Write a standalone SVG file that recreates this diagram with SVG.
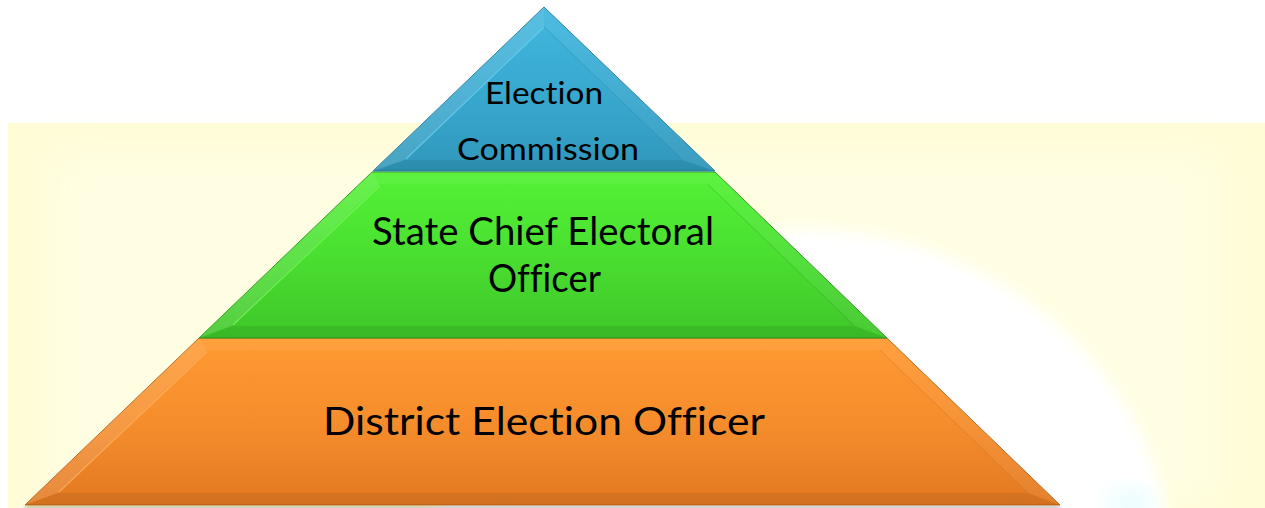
<svg xmlns="http://www.w3.org/2000/svg" width="1265" height="508" viewBox="0 0 1265 508">
  <defs>
    <linearGradient id="gBlue" x1="0" y1="0" x2="0" y2="1">
      <stop offset="0" stop-color="#42B8DF"/>
      <stop offset="0.6" stop-color="#37A6CD"/>
      <stop offset="1" stop-color="#3097BA"/>
    </linearGradient>
    <linearGradient id="gGreen" x1="0" y1="0" x2="0" y2="1">
      <stop offset="0" stop-color="#53F235"/>
      <stop offset="0.5" stop-color="#4ADF31"/>
      <stop offset="1" stop-color="#3FC629"/>
    </linearGradient>
    <linearGradient id="gOrange" x1="0" y1="0" x2="0" y2="1">
      <stop offset="0" stop-color="#FF9A32"/>
      <stop offset="0.5" stop-color="#F68D2C"/>
      <stop offset="1" stop-color="#E27922"/>
    </linearGradient>
    <filter id="blurBig" x="-30%" y="-30%" width="160%" height="160%">
      <feGaussianBlur stdDeviation="7"/>
    </filter>
    <filter id="blurSoft" x="-50%" y="-50%" width="200%" height="200%">
      <feGaussianBlur stdDeviation="12"/>
    </filter>
    <filter id="blurEdge" x="-10%" y="-10%" width="120%" height="120%">
      <feGaussianBlur stdDeviation="22"/>
    </filter>
    <filter id="shadow" x="-5%" y="-5%" width="110%" height="120%">
      <feGaussianBlur stdDeviation="1.5"/>
    </filter>
  </defs>
  <style>
    .lbl { font-family: Lato, "Open Sans", "Liberation Sans", sans-serif; fill: #000000; text-anchor: middle; font-variant-ligatures: none; font-feature-settings: "liga" 0; }
    .hl { fill: #FFFFFF; fill-opacity: 0.12; }
    .hr { fill: #FFFFFF; fill-opacity: 0.06; }
    .ht { fill: #FFFFFF; fill-opacity: 0.06; }
    .sb { fill: #000000; fill-opacity: 0.07; }
  </style>

  <rect x="0" y="0" width="1265" height="508" fill="#FFFFFF"/>

  <!-- background panel -->
  <g id="background">
    <rect x="8" y="123" width="1257" height="385" fill="#FFFCD6"/>
    <rect x="50" y="150" width="1170" height="358" fill="#FFFEE3" filter="url(#blurEdge)"/>
    <ellipse cx="800" cy="565" rx="370" ry="336" fill="#FFFFFF" filter="url(#blurBig)"/>
    <ellipse cx="1130" cy="502" rx="22" ry="12" fill="#E2FCFF" filter="url(#blurSoft)"/>
  </g>

  <!-- base shadow -->
  <polygon points="27,506 1058,506 1062,509 23,509" fill="#7A6A5A" opacity="0.45" filter="url(#shadow)"/>

  <!-- Tier 3: District Election Officer -->
  <g id="tier-district">
    <polygon points="199,338 887,338 1060,505 25,505" fill="url(#gOrange)" stroke="#B8661C" stroke-width="1"/>
    <polygon class="ht" points="199,338 887,338 879.7,350 206.6,350"/>
    <polygon class="hl" points="199,338 206.6,350 57.6,493 25,505"/>
    <polygon class="hr" points="887,338 1060,505 1028,493 879.7,350"/>
    <polygon class="sb" points="25,505 57.6,493 1028,493 1060,505"/>
    <line x1="206.6" y1="352" x2="59" y2="492" stroke="#FFB868" stroke-width="1.2" opacity="0.7"/>
    <line x1="879.7" y1="350" x2="1028" y2="493" stroke="#C86A1A" stroke-width="1" opacity="0.4"/>
    <text class="lbl" x="544" y="435" font-size="39" textLength="442" lengthAdjust="spacingAndGlyphs">District Election Officer</text>
  </g>

  <!-- Tier 2: State Chief Electoral Officer -->
  <g id="tier-state">
    <polygon points="372,172 715,172 887,338 199,338" fill="url(#gGreen)" stroke="#2F9A1E" stroke-width="1"/>
    <polygon class="ht" points="372,172 715,172 707.5,184 379.6,184"/>
    <polygon class="hl" points="372,172 379.6,184 231.6,326 199,338"/>
    <polygon class="hr" points="715,172 887,338 854.8,326 707.5,184"/>
    <polygon class="sb" points="199,338 231.6,326 854.8,326 887,338"/>
    <line x1="379.6" y1="186" x2="233" y2="325" stroke="#80FA62" stroke-width="1.2" opacity="0.7"/>
    <line x1="707.5" y1="184" x2="854.8" y2="326" stroke="#2E9A1C" stroke-width="1" opacity="0.4"/>
    <text class="lbl" x="543" y="245" font-size="38" textLength="342" lengthAdjust="spacingAndGlyphs">State Chief Electoral</text>
    <text class="lbl" x="544.5" y="292" font-size="38" textLength="113" lengthAdjust="spacingAndGlyphs">Officer</text>
  </g>

  <!-- Tier 1: Election Commission -->
  <g id="tier-commission">
    <polygon points="544,7 715,171 373,171" fill="url(#gBlue)" stroke="#2A7F9F" stroke-width="1"/>
    <polygon class="hl" points="544,7 544,26 404.6,160 373,171"/>
    <polygon class="hr" points="544,7 715,171 682.7,160 544,26"/>
    <polygon class="sb" points="373,171 404.6,160 682.7,160 715,171"/>
    <line x1="544" y1="27" x2="406" y2="159" stroke="#72D8F5" stroke-width="1.2" opacity="0.7"/>
    <line x1="544" y1="27" x2="682.7" y2="160" stroke="#2A85A6" stroke-width="1" opacity="0.4"/>
    <text class="lbl" x="544" y="104" font-size="31" textLength="118" lengthAdjust="spacingAndGlyphs">Election</text>
    <text class="lbl" x="548" y="160" font-size="31" textLength="182" lengthAdjust="spacingAndGlyphs">Commission</text>
  </g>
</svg>
